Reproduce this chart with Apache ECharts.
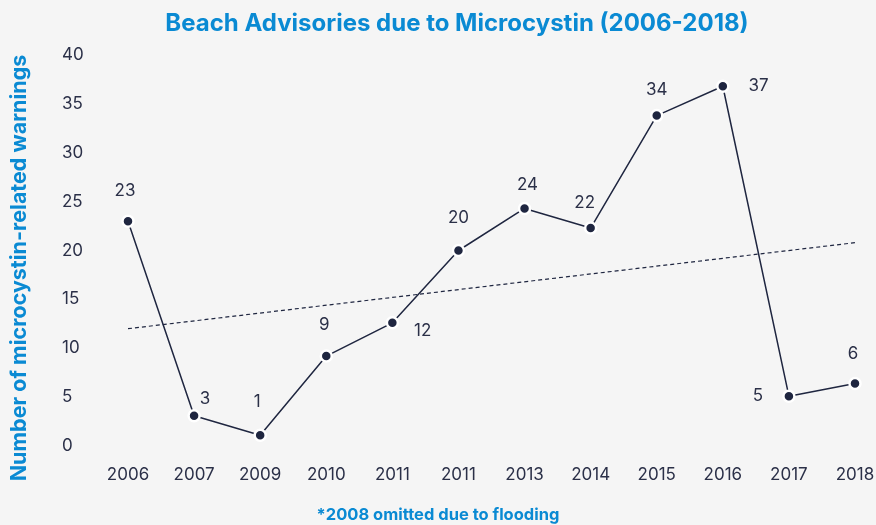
<!DOCTYPE html>
<html>
<head>
<meta charset="utf-8">
<script src="https://cdn.jsdelivr.net/npm/echarts@6/dist/echarts.min.js"></script>
<style>
html,body{margin:0;padding:0;background:#f5f5f5;}
#chart{width:876px;height:525px;}
</style>
</head>
<body>
<div id="chart"></div>
<script>
var categories = ['2006','2007','2009','2010','2011','2011','2013','2014','2015','2016','2017','2018'];
var warnings = [23, 3.1, 1.1, 9.2, 12.6, 20.0, 24.3, 22.3, 33.8, 36.8, 5.1, 6.4];
var labelTexts = ['23','3','1','9','12','20','24','22','34','37','5','6'];
var trendEnds = [12.0, 20.8];
var yTicks = [0, 5, 10, 15, 20, 25, 30, 35, 40];

var navy = '#1f2640';
var textCol = '#2b3048';
var blue = '#0a8ad3';
var font = 'Inter, "Open Sans", sans-serif';

// label placement per point (style only)
var labelPlace = [
  {position:'top', offset:[-3,-10]},
  {position:'top', offset:[11,3]},
  {position:'top', offset:[-3,-13]},
  {position:'top', offset:[-2,-11]},
  {position:'right', offset:[10,8]},
  {position:'top', offset:[0,-12]},
  {position:'top', offset:[3,-3]},
  {position:'top', offset:[-6,-5]},
  {position:'top', offset:[0,-5]},
  {position:'right', offset:[14,0]},
  {position:'left', offset:[-14,0]},
  {position:'top', offset:[-2,-9]}
];

var seriesData = warnings.map(function(v, i){
  return {
    value: v,
    label: {
      show: true,
      position: labelPlace[i].position,
      offset: labelPlace[i].offset,
      formatter: labelTexts[i]
    }
  };
});

var trendData = categories.map(function(c, i){
  if (i === 0) return trendEnds[0];
  if (i === categories.length - 1) return trendEnds[1];
  return null;
});

var chart = echarts.init(document.getElementById('chart'));
chart.setOption({
  backgroundColor: '#f5f5f5',
  animation: false,
  title: {
    text: 'Beach Advisories due to Microcystin (2006-2018)',
    left: 452, top: 7, textAlign: 'center',
    textStyle: {color: blue, fontSize: 24, fontWeight: 'bold', fontFamily: font}
  },
  graphic: [{
    type: 'text',
    left: 'center', top: 507,
    style: {text: '*2008 omitted due to flooding', fill: blue, font: 'bold 16.5px ' + font}
  }, {
    type: 'text',
    x: 20, y: 268,
    rotation: Math.PI / 2,
    style: {
      text: 'Number of microcystin-related warnings',
      fill: blue, font: 'bold 21.5px ' + font,
      align: 'center', verticalAlign: 'middle'
    }
  }],
  grid: {left: 128, right: 21, top: 55, bottom: 79, containLabel: false, outerBoundsMode: 'none'},
  xAxis: {
    type: 'category',
    data: categories,
    boundaryGap: false,
    axisLine: {show: false},
    axisTick: {show: false},
    axisLabel: {color: textCol, fontSize: 17, fontFamily: font, margin: 20, interval: 0}
  },
  yAxis: {
    type: 'value',
    min: 0, max: 40, interval: 5,
    axisLine: {show: false},
    axisTick: {show: false},
    splitLine: {show: false},
    axisLabel: {
      color: textCol, fontSize: 17, fontFamily: font, align: 'left', margin: 66,
      formatter: function(v){ return yTicks.indexOf(v) >= 0 ? String(v) : ''; }
    }
  },
  series: [
    {
      type: 'line',
      data: trendData,
      connectNulls: true,
      showSymbol: false,
      symbol: 'none',
      silent: true,
      lineStyle: {color: navy, width: 1.2, type: [4, 3]},
      z: 1
    },
    {
      type: 'line',
      data: seriesData,
      symbol: 'circle',
      symbolSize: 11,
      itemStyle: {color: navy, borderColor: '#ffffff', borderWidth: 2.5},
      lineStyle: {color: navy, width: 1.5},
      label: {color: textCol, fontSize: 17, fontFamily: font},
      z: 2
    }
  ]
});
</script>
</body>
</html>
